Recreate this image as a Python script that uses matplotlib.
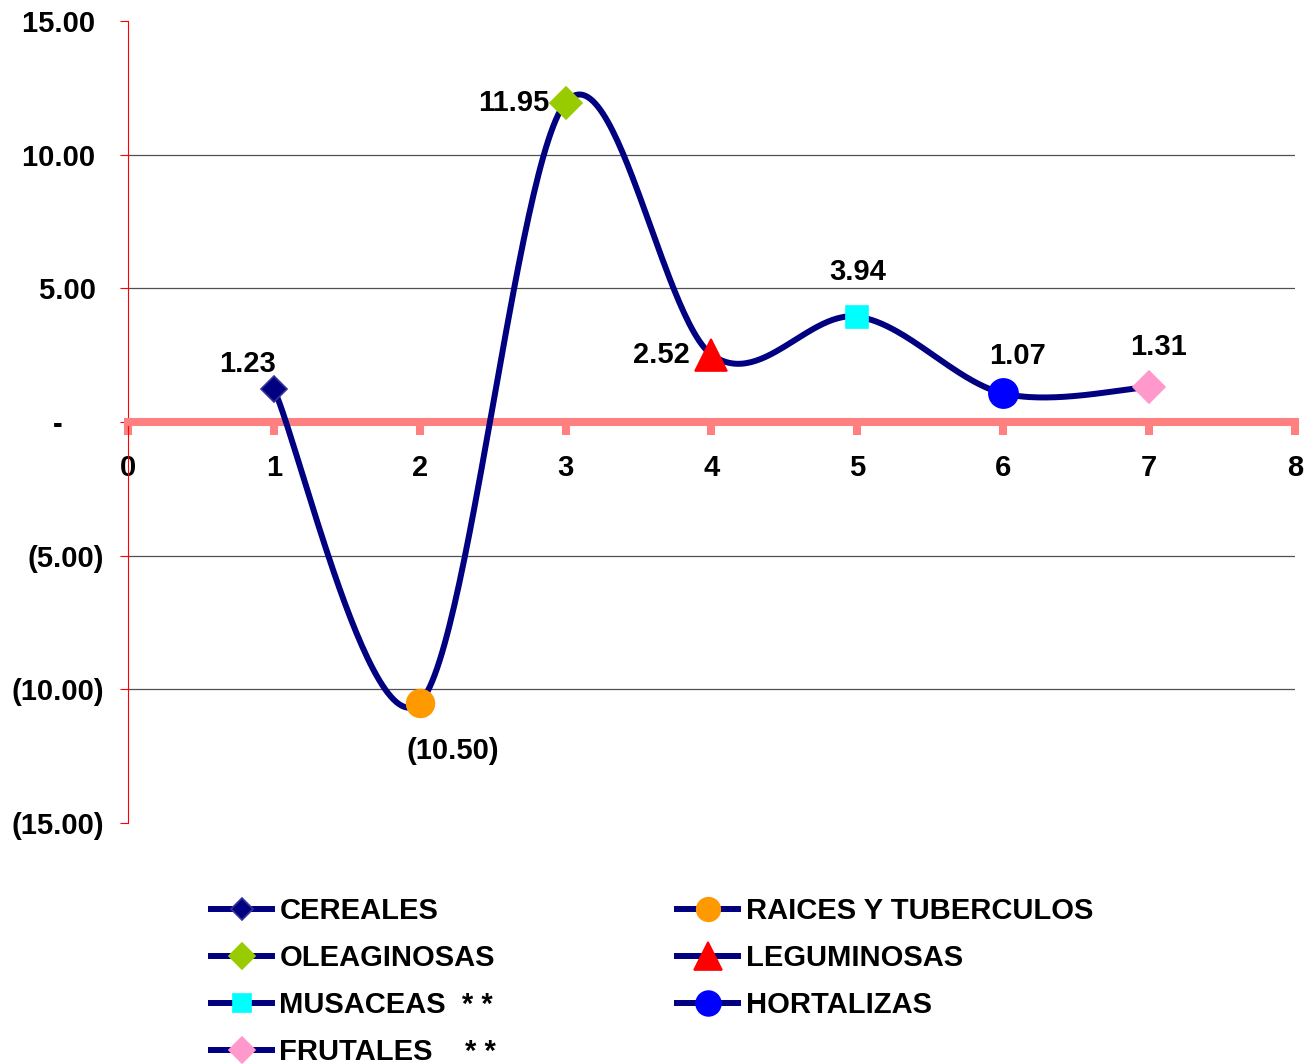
import numpy as np
import matplotlib
matplotlib.use('Agg')
import matplotlib.pyplot as plt
from matplotlib.ticker import FuncFormatter

# data
categories = ['CEREALES', 'RAICES Y TUBERCULOS', 'OLEAGINOSAS', 'LEGUMINOSAS',
              'MUSACEAS  * *', 'HORTALIZAS', 'FRUTALES    * *']
x_vals = [1, 2, 3, 4, 5, 6, 7]
values = [1.23, -10.50, 11.95, 2.52, 3.94, 1.07, 1.31]

# marker style per point
markers = ['D', 'o', 'D', '^', 's', 'o', 'D']
face_colors = ['#000080', '#FF9900', '#99CC00', '#FF0000', '#00FFFF', '#0000FF', '#FF99CC']
edge_colors = ['#333399', '#FF9900', '#99CC00', '#FF0000', '#00FFFF', '#0000FF', '#FF99CC']
marker_sizes = [13, 20, 16, 23, 16, 21, 16]
# label offsets in points (dx, dy)
label_offsets = [(-19, 18), (24, -35), (-37, 0), (-36, 0), (0, 32), (10, 27), (7, 29)]

plt.rcParams['font.family'] = ['Liberation Sans', 'DejaVu Sans']
plt.rcParams['font.weight'] = 'bold'
FS = 21
NAVY = '#000080'
PINK = '#FF8080'


def fmt(v, pos=None):
    if abs(v) < 1e-9:
        return '-'
    if v < 0:
        return '(%.2f)' % abs(v)
    return '%.2f' % v


def tick_fmt(v, pos=None):
    # accounting style: positives leave room for ")"
    if abs(v) < 1e-9:
        return '-     '
    if v < 0:
        return fmt(v)
    return fmt(v) + ' '


def smooth(xs, ys, n=60):
    # Excel-style smoothed line (Catmull-Rom as cubic Bezier)
    P = np.column_stack([xs, ys]).astype(float)
    P = np.vstack([P[0], P, P[-1]])
    out = []
    t = np.linspace(0, 1, n)[:, None]
    for i in range(1, len(P) - 2):
        p0, p3 = P[i], P[i + 1]
        c1 = p0 + (P[i + 1] - P[i - 1]) / 6
        c2 = p3 - (P[i + 2] - P[i]) / 6
        seg = (1 - t) ** 3 * p0 + 3 * (1 - t) ** 2 * t * c1 + 3 * (1 - t) * t ** 2 * c2 + t ** 3 * p3
        out.append(seg)
    out = np.vstack(out)
    return out[:, 0], out[:, 1]


fig = plt.figure(figsize=(13.16, 10.64), dpi=100)
ax = fig.add_axes([0.0973, 0.2265, 0.8867, 0.7538])

sx, sy = smooth(x_vals, values)
ax.plot(sx, sy, color=NAVY, lw=4.3, zorder=3, solid_capstyle='round')

handles = []
for i in range(len(values)):
    h, = ax.plot([x_vals[i]], [values[i]], marker=markers[i], color=NAVY, lw=4.3,
                 markerfacecolor=face_colors[i], markeredgecolor=edge_colors[i],
                 markersize=marker_sizes[i], markeredgewidth=1.2, zorder=4,
                 label=categories[i])
    handles.append(h)
    ax.annotate(fmt(values[i]), (x_vals[i], values[i]), xytext=label_offsets[i],
                textcoords='offset points', ha='center', va='center',
                fontsize=FS, fontweight='bold', zorder=5)

ax.set_xlim(0, 8)
ax.set_ylim(-15, 15)
ax.set_xticks(range(0, 9))
ax.set_yticks(range(-15, 16, 5))
ax.yaxis.set_major_formatter(FuncFormatter(tick_fmt))

for s in ['top', 'right']:
    ax.spines[s].set_visible(False)
ax.spines['left'].set_color('#FF0000')
ax.spines['left'].set_linewidth(0.8)
ax.spines['bottom'].set_position(('data', 0))
ax.spines['bottom'].set_color(PINK)
ax.spines['bottom'].set_linewidth(5.8)

ax.tick_params(axis='y', direction='out', length=6, width=0.8, color='#FF0000',
               labelsize=FS, pad=11.5)
ax.tick_params(axis='x', direction='out', length=9.4, width=5.8, color=PINK,
               labelsize=FS, pad=14)
for lab in ax.get_xticklabels() + ax.get_yticklabels():
    lab.set_fontweight('bold')

ax.yaxis.grid(True, color='#505050', lw=0.9, zorder=1)
gl = ax.get_ygridlines()
gl[0].set_visible(False)
gl[-1].set_visible(False)
gl[3].set_visible(False)

order = [0, 2, 4, 6, 1, 3, 5]
fig.legend([handles[i] for i in order], [categories[i] for i in order],
           loc='upper left', bbox_to_anchor=(0.1603, 0.157), ncol=2, frameon=False,
           fontsize=FS, handlelength=2.1, handletextpad=0.25, columnspacing=6.2,
           labelspacing=0.65, borderpad=0, borderaxespad=0, markerscale=0.85)

fig.savefig('out.png', dpi=100)
